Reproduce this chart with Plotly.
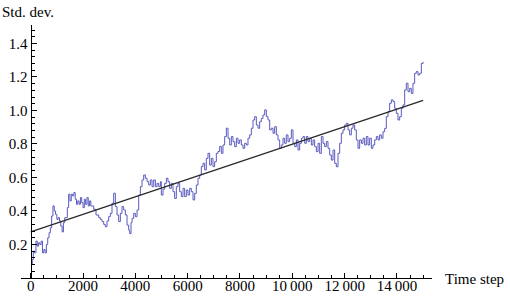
import plotly.graph_objects as go

# ---- data ----
time_step = [0, 30, 60, 100, 150, 200, 250, 300, 350, 400, 450, 500, 550, 600, 650, 700, 750, 800, 850, 900,
             950, 1000, 1050, 1100, 1150, 1200, 1250, 1300, 1400, 1450, 1500, 1550, 1600, 1650, 1700, 1750,
             1800, 1850, 1900, 1950, 2000, 2050, 2100, 2150, 2200, 2250, 2300, 2343, 2407, 2496, 2600, 2662,
             2725, 2790, 2853, 2917, 2980, 3044, 3108, 3172, 3235, 3300, 3363, 3427, 3490, 3554, 3618, 3682,
             3745, 3784, 3835, 3873, 3937, 4000, 4064, 4128, 4192, 4255, 4319, 4383, 4447, 4510, 4574, 4638,
             4702, 4766, 4830, 4893, 4957, 4993, 5057, 5121, 5185, 5248, 5312, 5376, 5439, 5503, 5567, 5630,
             5694, 5758, 5822, 5885, 5949, 6013, 6076, 6140, 6204, 6268, 6331, 6395, 6459, 6522, 6586, 6650,
             6713, 6777, 6841, 6905, 6968, 7032, 7096, 7159, 7223, 7287, 7350, 7414, 7478, 7542, 7606, 7670,
             7733, 7797, 7861, 7924, 7988, 8052, 8115, 8179, 8243, 8306, 8370, 8434, 8497, 8561, 8625, 8689,
             8752, 8816, 8880, 8944, 9007, 9071, 9135, 9198, 9262, 9326, 9389, 9453, 9517, 9580, 9644, 9708,
             9771, 9835, 9899, 9963, 10027, 10091, 10155, 10218, 10282, 10346, 10409, 10473, 10537, 10600,
             10664, 10728, 10791, 10855, 10919, 10983, 11046, 11110, 11174, 11237, 11301, 11365, 11429, 11492,
             11556, 11620, 11683, 11747, 11811, 11874, 11938, 12002, 12065, 12129, 12193, 12257, 12320, 12384,
             12447, 12511, 12575, 12639, 12702, 12766, 12830, 12893, 12957, 13021, 13084, 13148, 13212, 13276,
             13339, 13403, 13467, 13530, 13594, 13658, 13721, 13785, 13849, 13913, 13976, 14040, 14104, 14167,
             14231, 14295, 14358, 14422, 14486, 14549, 14613, 14677, 14740, 14804, 14868, 14932, 15000]
std_dev = [0.0, 0.08, 0.11, 0.16, 0.15, 0.22, 0.19, 0.21, 0.20, 0.22, 0.15, 0.17, 0.15, 0.20, 0.24, 0.27, 0.30,
           0.37, 0.43, 0.40, 0.38, 0.35, 0.36, 0.34, 0.31, 0.275, 0.33, 0.36, 0.42, 0.50, 0.46, 0.50, 0.49, 0.51,
           0.47, 0.44, 0.46, 0.44, 0.48, 0.45, 0.42, 0.47, 0.44, 0.48, 0.43, 0.46, 0.43, 0.43, 0.41, 0.376, 0.36,
           0.35, 0.337, 0.32, 0.306, 0.34, 0.366, 0.386, 0.446, 0.506, 0.426, 0.376, 0.337, 0.386, 0.426, 0.406,
           0.376, 0.316, 0.286, 0.265, 0.33, 0.356, 0.386, 0.366, 0.406, 0.495, 0.545, 0.585, 0.615, 0.595,
           0.575, 0.555, 0.585, 0.545, 0.585, 0.545, 0.565, 0.545, 0.575, 0.495, 0.53, 0.565, 0.595, 0.575,
           0.535, 0.565, 0.515, 0.475, 0.545, 0.565, 0.515, 0.486, 0.535, 0.486, 0.525, 0.495, 0.535, 0.515,
           0.466, 0.505, 0.555, 0.595, 0.615, 0.665, 0.685, 0.645, 0.714, 0.744, 0.674, 0.714, 0.665, 0.694,
           0.744, 0.755, 0.785, 0.744, 0.794, 0.844, 0.894, 0.834, 0.794, 0.844, 0.814, 0.784, 0.834, 0.804,
           0.824, 0.794, 0.774, 0.804, 0.794, 0.834, 0.854, 0.894, 0.943, 0.963, 0.913, 0.894, 0.933, 0.953,
           0.973, 1.003, 0.963, 0.943, 0.884, 0.894, 0.864, 0.903, 0.854, 0.824, 0.774, 0.794, 0.834, 0.804,
           0.854, 0.814, 0.834, 0.884, 0.804, 0.784, 0.824, 0.764, 0.804, 0.834, 0.844, 0.804, 0.844, 0.814,
           0.834, 0.794, 0.824, 0.784, 0.754, 0.804, 0.744, 0.844, 0.804, 0.784, 0.814, 0.774, 0.734, 0.704,
           0.764, 0.684, 0.664, 0.744, 0.804, 0.864, 0.884, 0.913, 0.923, 0.884, 0.854, 0.894, 0.913, 0.884,
           0.824, 0.774, 0.824, 0.804, 0.834, 0.794, 0.844, 0.794, 0.834, 0.774, 0.794, 0.824, 0.844, 0.824,
           0.854, 0.834, 0.873, 0.893, 0.963, 0.993, 1.043, 1.063, 1.053, 1.013, 0.983, 0.943, 0.963, 1.013,
           1.033, 1.122, 1.162, 1.112, 1.132, 1.102, 1.162, 1.222, 1.232, 1.212, 1.222, 1.281, 1.29]

fit_x = [0, 15000]
fit_y = [0.275, 1.06]

x_tick_vals = [0, 2000, 4000, 6000, 8000, 10000, 12000, 14000]
x_tick_text = ["0", "2000", "4000", "6000", "8000", "10\u2009000", "12\u2009000", "14\u2009000"]
y_tick_vals = [0.2, 0.4, 0.6, 0.8, 1.0, 1.2, 1.4]
y_tick_text = ["0.2", "0.4", "0.6", "0.8", "1.0", "1.2", "1.4"]

FONT = "serif"

fig = go.Figure()
fig.add_trace(go.Scatter(x=time_step, y=std_dev, mode="lines", line_shape="hv",
                         line=dict(color="rgb(90,90,190)", width=1), showlegend=False))
fig.add_trace(go.Scatter(x=fit_x, y=fit_y, mode="lines",
                         line=dict(color="rgb(40,40,40)", width=1.2), showlegend=False))

L, R, T, B = 21, 78, 25, 22
plot_w = 510 - L - R
yaxis_pos = (30.7 - L) / plot_w

fig.update_layout(
    width=510, height=300,
    margin=dict(l=L, r=R, t=T, b=B, autoexpand=False),
    paper_bgcolor="white", plot_bgcolor="white",
    font=dict(family=FONT, size=15, color="black"),
    xaxis=dict(range=[-371, 15340], showgrid=False, zeroline=False, automargin=False,
               showline=True, linecolor="black", linewidth=1.3,
               ticks="inside", ticklen=5, tickwidth=1, tickcolor="black",
               tickvals=x_tick_vals, ticktext=x_tick_text, ticklabelstandoff=-6,
               minor=dict(ticks="inside", ticklen=3, dtick=500, tick0=0, tickcolor="black", showgrid=False),
               tickfont=dict(family=FONT, size=15)),
    yaxis=dict(range=[0, 1.51], showgrid=False, zeroline=False, automargin=False,
               anchor="free", position=yaxis_pos,
               showline=True, linecolor="black", linewidth=1.3,
               ticks="inside", ticklen=5, tickwidth=1, tickcolor="black",
               tickvals=y_tick_vals, ticktext=y_tick_text,
               minor=dict(ticks="inside", ticklen=3, dtick=0.04, tick0=0, tickcolor="black", showgrid=False),
               tickfont=dict(family=FONT, size=15)),
    annotations=[
        dict(text="Std. dev.", xref="paper", yref="paper", x=0, y=1, xshift=-L, yshift=13,
             xanchor="left", yanchor="middle", showarrow=False, font=dict(family=FONT, size=15)),
        dict(text="Time step", xref="paper", yref="paper", x=1, y=0, xshift=11, yshift=-1,
             xanchor="left", yanchor="middle", showarrow=False, font=dict(family=FONT, size=15)),
    ],
)

fig.write_html("out.html", config={"displayModeBar": False},
               post_script="document.body.style.margin='0';")
